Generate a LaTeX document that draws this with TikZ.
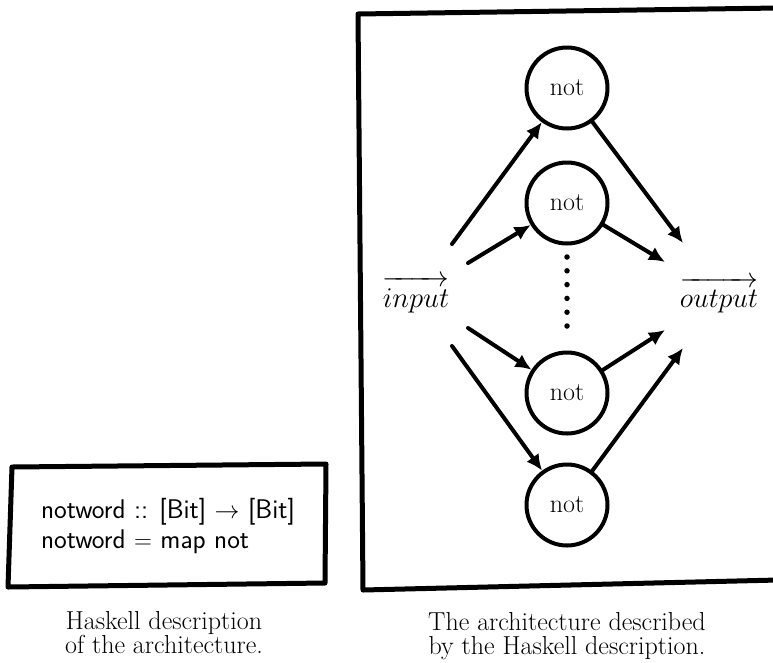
\documentclass[tikz,border=0pt]{standalone}
\usetikzlibrary{arrows.meta}
\begin{document}
\begin{tikzpicture}[x=1pt, y=-1pt,
  frame/.style={line width=5pt, line join=round},
  gate/.style={circle, draw, line width=4pt, minimum size=81pt, inner sep=0pt,
    font=\fontsize{26}{26}\selectfont},
  wire/.style={line width=4pt, line cap=round, -{Latex[length=16pt,width=15pt]}},
  caption/.style={align=center, font=\fontsize{26}{24}\selectfont},
  code/.style={align=left, font=\sffamily\fontsize{27}{30}\selectfont},
  vec/.style={anchor=base, font=\fontsize{24.88}{25}\selectfont},
  dots/.style={line width=5.5pt, line cap=round, dash pattern=on 0pt off 13.8pt}
]
\fill[white] (0,0) rectangle (773,662);
\useasboundingbox (0,0) rectangle (773,662);

% left: the Haskell source in a hand-drawn box
\draw[frame] (12,467) -- (326,464) -- (325,583) -- (8,587) -- cycle;
\node[code] (src) at (168,526)
  {notword :: [Bit] $\rightarrow$ [Bit]\\notword $=$ map not};
\node[caption] (capL) at (164,633) {Haskell description\\of the architecture.};

% right: the circuit in a hand-drawn frame
\draw[frame] (358,14) -- (566,11) -- (778,8) -- (778,580) -- (363,590) -- cycle;

\node[gate] (n1) at (567,88)  {not};
\node[gate] (n2) at (567,203) {not};
\node[gate] (n3) at (567,393) {not};
\node[gate] (n4) at (567,505) {not};

\node[vec] (in)  at (416,307) {\scalebox{1.15}{$\overrightarrow{\mathstrut input}$}};
\node[vec] (out) at (719,307) {\scalebox{1.13}{$\overrightarrow{\mathstrut output}$}};

% loose wire ends next to the input and output labels
\coordinate (i1) at (452,244);
\coordinate (i2) at (468,263);
\coordinate (i3) at (468,328);
\coordinate (i4) at (452,346);
\coordinate (o1) at (683,243);
\coordinate (o2) at (665,262);
\coordinate (o3) at (665,330);
\coordinate (o4) at (683,348);

\draw[wire] (i1) -- (n1);
\draw[wire] (i2) -- (n2);
\draw[wire] (i3) -- (n3);
\draw[wire] (i4) -- (n4);
\draw[wire] (n1) -- (o1);
\draw[wire] (n2) -- (o2);
\draw[wire] (n3) -- (o3);
\draw[wire] (n4) -- (o4);

% ellipsis between the middle gates
\draw[dots] ([yshift=-11.5pt]n2.south) -- ([yshift=14.3pt]n3.north);

\node[caption] (capR) at (567,636) {The architecture described\\by the Haskell description.};
\end{tikzpicture}
\end{document}
